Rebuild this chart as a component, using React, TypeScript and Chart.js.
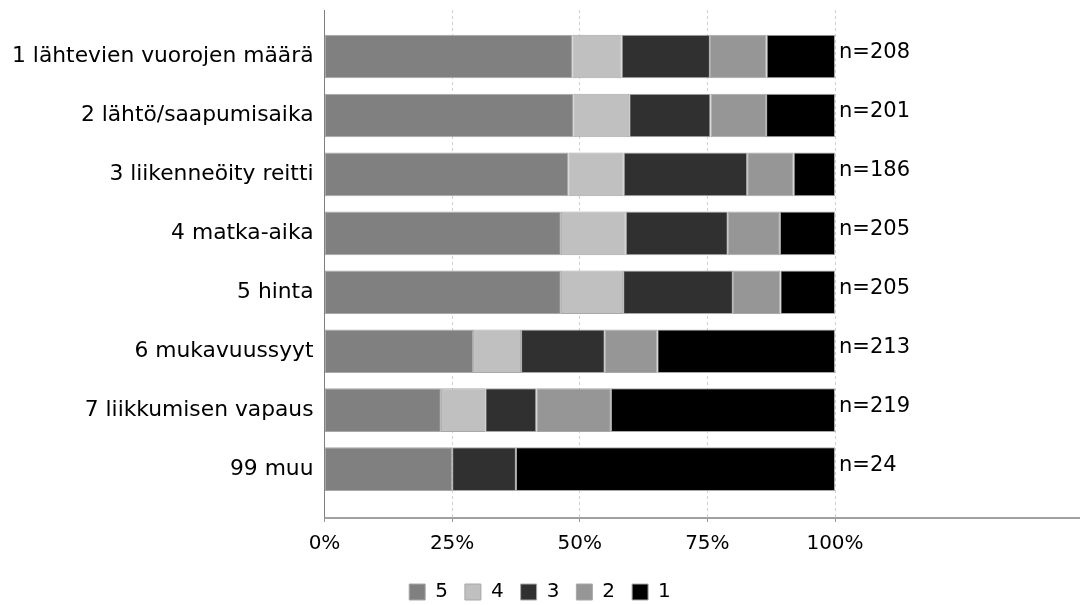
import React, { useEffect, useRef } from 'react';
import { Chart, registerables } from 'chart.js';

Chart.register(...registerables);

const categories = [
  '1 lähtevien vuorojen määrä',
  '2 lähtö/saapumisaika',
  '3 liikenneöity reitti',
  '4 matka-aika',
  '5 hinta',
  '6 mukavuussyyt',
  '7 liikkumisen vapaus',
  '99 muu',
];
const counts = [208, 201, 186, 205, 205, 213, 219, 24];

const series5 = [48.6, 48.8, 47.8, 46.3, 46.3, 29.1, 22.8, 25.0];
const series4 = [9.6, 10.9, 10.8, 12.7, 12.2, 9.4, 8.7, 0];
const series3 = [17.3, 15.9, 24.2, 20.0, 21.5, 16.4, 10.0, 12.5];
const series2 = [11.1, 10.9, 9.1, 10.2, 9.3, 10.3, 14.6, 0];
const series1 = [13.4, 13.5, 8.1, 10.8, 10.7, 34.8, 43.9, 62.5];

const seriesLabels = ['5', '4', '3', '2', '1'];
const seriesColors = ['#808080', '#c0c0c0', '#303030', '#969696', '#000000'];
const xTickValues = [0, 25, 50, 75, 100];

export default function App() {
  const ref = useRef<HTMLCanvasElement>(null);

  useEffect(() => {
    const canvas = ref.current;
    if (!canvas) return;
    Chart.defaults.font.family = "'DejaVu Sans', sans-serif";
    Chart.defaults.color = '#000';

    const seriesValues = [series5, series4, series3, series2, series1];
    const datasets = seriesValues.map((vals, k) => ({
      label: seriesLabels[k],
      data: vals.map((v, i) => ({ x: v, y: i })),
      backgroundColor: seriesColors[k],
      borderColor: '#a8a8a8',
      borderWidth: (c: any) => (c.raw && c.raw.x === 0 ? 0 : 1),
      borderSkipped: false,
      barPercentage: 0.74,
      categoryPercentage: 1,
      xAxisID: 'x',
      yAxisID: 'y',
    }));

    const extras = {
      id: 'extras',
      afterDatasetsDraw(chart: any) {
        const { ctx, chartArea, scales } = chart;
        ctx.save();
        ctx.strokeStyle = '#a0a0a0';
        ctx.lineWidth = 2;
        ctx.beginPath();
        ctx.moveTo(chartArea.left, chartArea.bottom);
        ctx.lineTo(chart.width, chartArea.bottom);
        ctx.stroke();
        ctx.font = "21px 'DejaVu Sans', sans-serif";
        ctx.fillStyle = '#000';
        ctx.textAlign = 'left';
        ctx.textBaseline = 'alphabetic';
        counts.forEach((n, i) => {
          const y = scales.y.getPixelForValue(i);
          ctx.fillText('n=' + n, chartArea.right + 4, y + 1.5);
        });
        ctx.restore();
      },
    };

    const chart = new Chart(canvas, {
      type: 'bar',
      data: { datasets: datasets as any },
      options: {
        indexAxis: 'y',
        animation: false,
        responsive: true,
        maintainAspectRatio: false,
        layout: { padding: { top: 10, left: 0, right: 0, bottom: -7 } },
        scales: {
          x: {
            type: 'linear',
            position: 'bottom',
            stacked: true,
            min: 0,
            max: 100,
            offset: false,
            afterBuildTicks: (s: any) => {
              s.ticks = xTickValues.map((v) => ({ value: v }));
            },
            afterFit: (s: any) => {
              s.height = 47;
            },
            ticks: {
              callback: (v: any) => v + '%',
              font: { size: 20 },
              padding: 10,
              color: '#000',
              maxRotation: 0,
            },
            grid: {
              color: '#d0d0d0',
              tickColor: '#999999',
              tickLength: 4,
              lineWidth: 1,
            },
            border: { display: false, dash: [3, 3] },
          },
          y: {
            type: 'linear',
            position: 'left',
            reverse: true,
            stacked: true,
            offset: false,
            min: -0.79,
            max: 7.83,
            afterBuildTicks: (s: any) => {
              s.ticks = categories.map((_, i) => ({ value: i }));
            },
            afterFit: (s: any) => {
              s.width = 324.5;
              s.paddingTop = 0;
              s.paddingBottom = 0;
            },
            ticks: {
              callback: (v: any) => categories[v],
              font: { size: 21.8 },
              padding: 11,
              color: '#000',
              autoSkip: false,
            },
            grid: { display: false, drawTicks: false, offset: false },
            border: { display: true, color: '#808080', width: 1 },
          },
          yR: {
            type: 'linear',
            position: 'right',
            display: true,
            grid: { display: false, drawTicks: false },
            border: { display: false },
            ticks: { display: false },
            afterFit: (s: any) => {
              s.width = 245;
            },
          },
        } as any,
        plugins: {
          legend: {
            position: 'bottom',
            labels: {
              boxWidth: 16,
              boxHeight: 16,
              padding: 17,
              font: { size: 20 },
              color: '#000',
            },
          },
          tooltip: { enabled: false },
        },
      },
      plugins: [extras],
    });

    return () => chart.destroy();
  }, []);

  return (
    <div style={{ position: 'fixed', left: 0, top: 0, width: 1080, height: 605, background: '#fff' }}>
      <canvas ref={ref} />
    </div>
  );
}
